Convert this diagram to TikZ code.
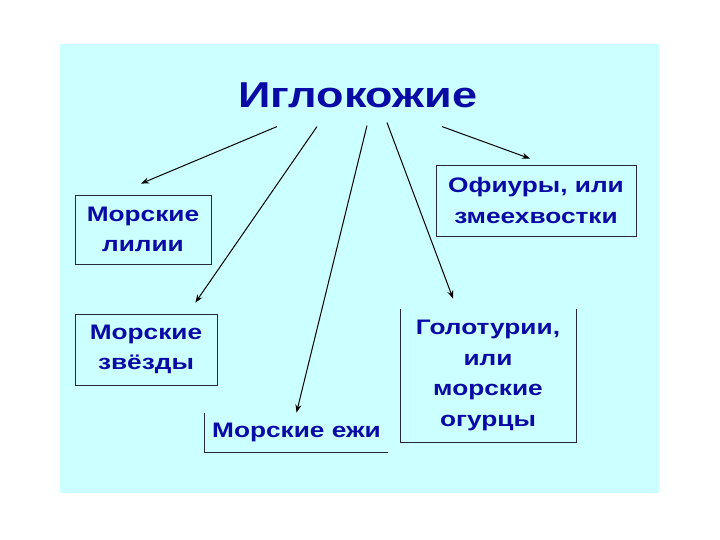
\documentclass[tikz,border=0pt]{standalone}
\usepackage{fontspec}
\setmainfont{Liberation Sans}[FakeStretch=1.25]
\usepackage{tikz}
\usetikzlibrary{arrows.meta, calc}
\definecolor{slideCyan}{RGB}{204, 255, 255}
\definecolor{textBlue}{RGB}{10, 10, 165}
\definecolor{borderDark}{RGB}{40, 40, 60}

\begin{document}
\begin{tikzpicture}[
    x=1pt, y=-1pt,
    titlebox/.style={
        font=\fontsize{36}{40}\selectfont\bfseries,
        text=textBlue,
        inner sep=0pt
    },
    groupbox/.style={
        rectangle,
        draw=borderDark,
        line width=0.8pt,
        fill=slideCyan,
        align=center,
        inner sep=0pt,
        font=\fontsize{21}{30.5}\selectfont\bfseries,
        text=textBlue
    },
    openbox/.style={
        groupbox,
        draw=none
    },
    edgeline/.style={
        borderDark,
        line width=0.8pt
    },
    link/.style={
        -{Stealth[length=8pt, width=6pt]},
        line width=1pt,
        black
    }
]
\useasboundingbox (0,0) rectangle (720,540);
\fill[slideCyan] (60,44) rectangle (659,493);

% Title
\node[titlebox, anchor=base] (title) at (358,108) {Иглокожие};

% Left column
\node[groupbox, minimum width=136pt, minimum height=69pt] (lilii) at (143,229.5) {Морские\\лилии};
\node[groupbox, minimum width=142pt, minimum height=71pt] (zvezdy) at (146,349.5) {Морские\\звёзды};
\node[openbox, minimum width=183pt, minimum height=39pt] (ezhi) at (296.5,432.5) {Морские ежи};
\draw[edgeline] (ezhi.north west) |- (ezhi.south east);

% Right column
\node[groupbox, minimum width=200pt, minimum height=71pt] (ofiury) at (536,200.5) {Офиуры, или\\змеехвостки};
\node[openbox, minimum width=175pt, minimum height=133pt] (golot) at (488,375.5) {Голотурии,\\или\\морские\\огурцы};
\draw[edgeline] (golot.north west) -- (golot.south west) -- (golot.south east) -- (golot.north east);

% Arrows from the title
\draw[link] ($(title.south)+(-81,18)$) -- ($(lilii.north)+(-2,-11)$);
\draw[link] ($(title.south)+(-41,18)$) -- ($(zvezdy.north east)+(-22,-11)$);
\draw[link] ($(title.south)+(9,17)$) -- (ezhi.north);
\draw[link] ($(title.south)+(29,14)$) -- ($(golot.north)+(-35,-10)$);
\draw[link] ($(title.south)+(84,18)$) -- ($(ofiury.north)+(-6,-6)$);

\end{tikzpicture}
\end{document}
